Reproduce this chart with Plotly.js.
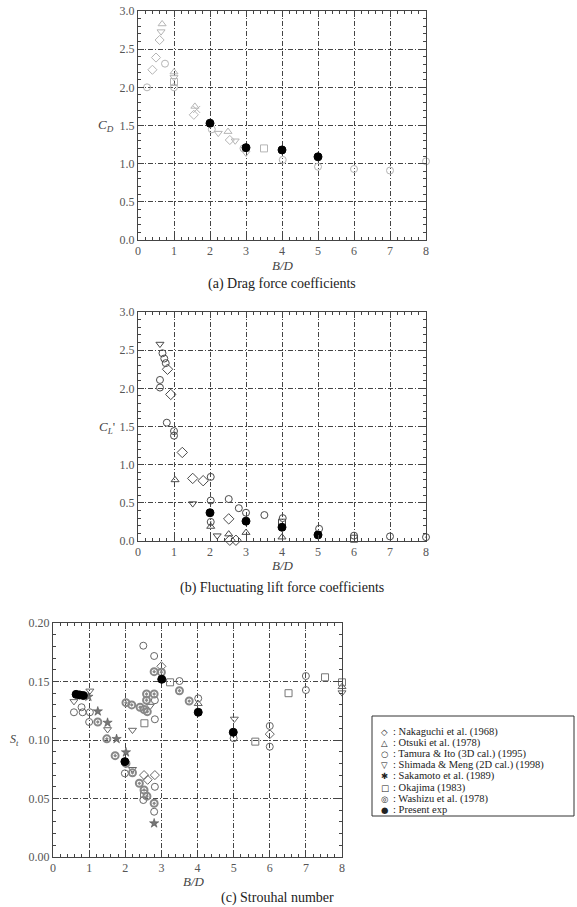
<!DOCTYPE html>
<html><head><meta charset="utf-8">
<script src="https://cdn.plot.ly/plotly-3.0.1.min.js"></script>
<style>html,body{margin:0;padding:0;background:#fff}#chart{width:577px;height:907px}</style>
</head><body><div id="chart"></div>
<script>
// ---------- series names (legend) ----------
const seriesNames = ["Nakaguchi et al. (1968)", "Otsuki et al. (1978)", "Tamura & Ito (3D cal.) (1995)",
  "Shimada & Meng (2D cal.) (1998)", "Sakamoto et al. (1989)", "Okajima (1983)", "Washizu et al. (1978)", "Present exp"];
const legendGlyphs = ["◇", "△", "○", "▽", "✱", "□", "◎", "●"];

// ---------- (a) Drag force coefficients ----------
const aNakaguchiX = [0.4, 0.5, 0.6, 1.55, 2.55];
const aNakaguchiY = [2.23, 2.39, 2.62, 1.64, 1.31];
const aOtsukiX = [0.67, 1.0, 1.58, 2.5];
const aOtsukiY = [2.83, 2.2, 1.75, 1.42];
const aTamuraX = [0.25, 0.75, 1.0, 2.05, 2.93, 4.02, 5.0, 6.0, 7.0, 8.0];
const aTamuraY = [2.0, 2.31, 2.0, 1.45, 1.2, 1.05, 0.96, 0.93, 0.91, 1.03];
const aShimadaX = [0.64, 1.0, 2.23, 2.7, 3.0];
const aShimadaY = [2.73, 2.13, 1.40, 1.30, 1.14];
const aSakamotoX = [1.63];
const aSakamotoY = [1.71];
const aOkajimaX = [1.0, 3.5];
const aOkajimaY = [2.07, 1.2];
const aPresentX = [2, 3, 4, 5];
const aPresentY = [1.53, 1.21, 1.18, 1.09];

// ---------- (b) Fluctuating lift force coefficients ----------
const bNakaguchiX = [0.82, 0.91, 1.23, 1.52, 1.81, 2.52, 2.55, 2.72];
const bNakaguchiY = [2.25, 1.92, 1.16, 0.82, 0.79, 0.29, 0.01, 0.01];
const bOtsukiX = [1.03, 2.02, 2.52, 3.0, 4.0];
const bOtsukiY = [0.80, 0.19, 0.09, 0.11, 0.05];
const bTamuraX = [0.68, 0.73, 0.77, 0.61, 0.61, 0.8, 1.0, 2.02, 2.02, 2.52, 2.8, 3.0, 3.51, 4.02, 5.03, 6.0, 7.0];
const bTamuraY = [2.46, 2.39, 2.33, 2.11, 2.01, 1.55, 1.38, 0.84, 0.53, 0.55, 0.43, 0.37, 0.34, 0.30, 0.16, 0.07, 0.06];
const bShimadaX = [0.61, 1.52, 2.2];
const bShimadaY = [2.58, 0.49, 0.07];
const bOkajimaX = [6.0, 4.0];
const bOkajimaY = [0.03, 0.24];
const bWashizuX = [1.0, 2.02, 8.0];
const bWashizuY = [1.44, 0.25, 0.05];
const bPresentX = [2, 3, 4, 5];
const bPresentY = [0.37, 0.26, 0.18, 0.08];

// ---------- (c) Strouhal number ----------
const cNakaguchiX = [2.52, 2.62, 2.82, 3.0, 6.0];
const cNakaguchiY = [0.070, 0.066, 0.070, 0.163, 0.105];
const cOtsukiX = [8.0, 4.02];
const cOtsukiY = [0.1455, 0.131];
const cTamuraX = [0.58, 0.79, 0.82, 1.02, 1.0, 1.99, 2.5, 2.82, 2.8, 2.5, 2.8, 3.5, 4.02, 5.0, 6.0, 6.0, 7.0, 7.0, 2.82, 2.82];
const cTamuraY = [0.1237, 0.128, 0.1237, 0.1237, 0.1154, 0.0715, 0.0487, 0.060, 0.0387, 0.1806, 0.1718, 0.1504, 0.1356, 0.1015, 0.112, 0.0943, 0.1547, 0.1427, 0.134, 0.1177];
const cShimadaX = [0.58, 1.02, 1.51, 2.2, 2.2, 5.02, 2.69, 8.0];
const cShimadaY = [0.133, 0.142, 0.109, 0.075, 0.1085, 0.118, 0.129, 0.1405];
const cSakamotoX = [0.98, 1.24, 1.51, 1.76, 2.02, 2.8];
const cSakamotoY = [0.137, 0.1245, 0.1148, 0.1009, 0.0895, 0.0288];
const cOkajimaX = [2.53, 2.52, 5.6, 6.52, 7.53, 8.0, 3.24];
const cOkajimaY = [0.1143, 0.054, 0.0986, 0.140, 0.1536, 0.1493, 0.1493];
const cWashizuX = [1.24, 1.49, 1.72, 2.02, 2.2, 2.39, 2.52, 2.6, 2.8, 2.8, 3.0, 3.5, 3.77, 2.02, 2.18, 2.41, 2.52, 2.59, 2.8, 2.59, 2.61];
const cWashizuY = [0.1154, 0.101, 0.0866, 0.08, 0.072, 0.063, 0.0573, 0.052, 0.0459, 0.1584, 0.158, 0.1421, 0.1333, 0.1319, 0.13, 0.128, 0.126, 0.1393, 0.1393, 0.134, 0.1242];
const cPresentX = [0.64, 0.74, 0.84, 1.99, 3.01, 4.02, 4.99];
const cPresentY = [0.139, 0.1385, 0.138, 0.0815, 0.1519, 0.1237, 0.1066];

// ---------- tick labels ----------
const xTicks = [0, 1, 2, 3, 4, 5, 6, 7, 8];
const yTicksAB = [0, 0.5, 1.0, 1.5, 2.0, 2.5, 3.0];
const yTicksC = [0, 0.05, 0.10, 0.15, 0.20];

// ---------- helpers (layout only) ----------
const W = 577, H = 907;
const px = x => x / W;
const py = y => 1 - y / H;

function mk(x, y, sym, color, xa, ya, opts) {
  opts = opts || {};
  return {
    type: 'scatter', mode: 'markers', x: x, y: y, xaxis: xa, yaxis: ya,
    showlegend: false, cliponaxis: false, hoverinfo: 'x+y',
    marker: Object.assign({symbol: sym, size: 7, color: color, line: {color: color, width: 1}}, opts)
  };
}

const faint = '#b5b5b5';
const dark = '#4a4a4a';
const traces = [
  // (a)
  mk(aNakaguchiX, aNakaguchiY, 'diamond-open', faint, 'x', 'y'),
  mk(aOtsukiX, aOtsukiY, 'triangle-up-open', faint, 'x', 'y'),
  mk(aTamuraX, aTamuraY, 'circle-open', faint, 'x', 'y'),
  mk(aShimadaX, aShimadaY, 'triangle-down-open', faint, 'x', 'y'),
  mk(aSakamotoX, aSakamotoY, 'x-thin-open', faint, 'x', 'y'),
  mk(aOkajimaX, aOkajimaY, 'square-open', faint, 'x', 'y'),
  mk(aPresentX, aPresentY, 'circle', '#000', 'x', 'y', {size: 8}),
  // (b)
  mk(bNakaguchiX, bNakaguchiY, 'diamond-open', dark, 'x2', 'y2', {size: 8}),
  mk(bOtsukiX, bOtsukiY, 'triangle-up-open', dark, 'x2', 'y2'),
  mk(bTamuraX, bTamuraY, 'circle-open', dark, 'x2', 'y2'),
  mk(bShimadaX, bShimadaY, 'triangle-down-open', dark, 'x2', 'y2'),
  mk(bOkajimaX, bOkajimaY, 'square-open', dark, 'x2', 'y2'),
  mk(bWashizuX, bWashizuY, 'circle-open-dot', dark, 'x2', 'y2'),
  mk(bPresentX, bPresentY, 'circle', '#000', 'x2', 'y2', {size: 8}),
  // (c)
  mk(cNakaguchiX, cNakaguchiY, 'diamond-open', '#666', 'x3', 'y3'),
  mk(cOtsukiX, cOtsukiY, 'triangle-up-open', '#666', 'x3', 'y3'),
  mk(cTamuraX, cTamuraY, 'circle-open', '#666', 'x3', 'y3'),
  mk(cShimadaX, cShimadaY, 'triangle-down-open', '#666', 'x3', 'y3'),
  mk(cSakamotoX, cSakamotoY, 'star', '#777', 'x3', 'y3', {line: {color: '#444', width: 0.5}}),
  mk(cOkajimaX, cOkajimaY, 'square-open', '#777', 'x3', 'y3'),
  mk(cWashizuX, cWashizuY, 'circle-open-dot', '#888', 'x3', 'y3', {line: {color: '#888', width: 2}}),
  mk(cPresentX, cPresentY, 'circle', '#000', 'x3', 'y3', {size: 8})
];

const serif = 'Liberation Serif';
const tickFont = {family: serif, size: 12, color: '#555'};
function xax(dom, anchor) {
  return {
    domain: dom, anchor: anchor, range: [0, 8], tickmode: 'array', tickvals: xTicks,
    ticktext: xTicks.map(String), showline: true, linecolor: '#444', linewidth: 1, mirror: 'allticks',
    ticks: 'inside', ticklen: 6, tickcolor: '#444', tickfont: tickFont,
    showgrid: true, gridcolor: '#444', griddash: '5px,2px,1px,2px', gridwidth: 1, zeroline: false,
    minor: {ticks: 'inside', ticklen: 3, dtick: 0.2, tick0: 0, tickcolor: '#444', showgrid: false}
  };
}
function yax(dom, anchor, range, vals, fmt, minorStep) {
  return {
    domain: dom, anchor: anchor, range: range, tickmode: 'array', tickvals: vals,
    ticktext: vals.map(v => v.toFixed(fmt)), showline: true, linecolor: '#444', linewidth: 1, mirror: 'allticks',
    ticks: 'inside', ticklen: 6, tickcolor: '#444', tickfont: tickFont,
    showgrid: true, gridcolor: '#444', griddash: '5px,2px,1px,2px', gridwidth: 1, zeroline: false,
    minor: {ticks: 'inside', ticklen: 3, dtick: minorStep, tick0: 0, tickcolor: '#444', showgrid: false}
  };
}

const annotations = [];
function ann(text, x, y, xanchor, size, color, family) {
  annotations.push({text: text, x: px(x), y: py(y), xref: 'paper', yref: 'paper',
    xanchor: xanchor, yanchor: 'middle', showarrow: false,
    font: {family: family || serif, size: size, color: color || '#444'}});
}
// axis titles / captions
ann('<i>B/D</i>', 283, 265, 'center', 13);
ann('(a) Drag force coefficients', 282, 284, 'center', 14, '#222');
ann('<i>C<sub>D</sub></i>', 116, 126, 'right', 13);
ann('<i>B/D</i>', 283, 565, 'center', 13);
ann('(b) Fluctuating lift force coefficients', 282, 588, 'center', 14, '#222');
ann("<i>C<sub>L</sub></i>'", 117, 427, 'right', 13);
ann('<i>B/D</i>', 194, 881, 'center', 13);
ann('(c) Strouhal number', 277, 898, 'center', 14, '#222');
ann('<i>S<sub>t</sub></i>', 21, 740, 'right', 12);

// legend (drawn as text lines inside a box)
const legendY0 = 731.5, legendDy = 11.2;
seriesNames.forEach((name, i) => {
  ann(legendGlyphs[i], 379, legendY0 + i * legendDy, 'left', 8.5, '#222', 'DejaVu Sans');
  ann(': ' + name, 391, legendY0 + i * legendDy, 'left', 10.5, '#222');
});

const layout = {
  width: W, height: H, margin: {l: 0, r: 0, t: 0, b: 0},
  paper_bgcolor: '#fff', plot_bgcolor: '#fff', showlegend: false,
  xaxis: xax([px(138), px(426)], 'y'),
  yaxis: yax([py(240), py(11)], 'x', [0, 3], yTicksAB, 1, 0.1),
  xaxis2: xax([px(138), px(426)], 'y2'),
  yaxis2: yax([py(541), py(312)], 'x2', [0, 3], yTicksAB, 1, 0.1),
  xaxis3: xax([px(53), px(342)], 'y3'),
  yaxis3: yax([py(857), py(623)], 'x3', [0, 0.2], yTicksC, 2, 0.01),
  annotations: annotations,
  shapes: [{type: 'rect', xref: 'paper', yref: 'paper', x0: px(372), x1: px(574), y0: py(816), y1: py(716),
    line: {color: '#333', width: 1}, fillcolor: 'rgba(0,0,0,0)'}]
};

Plotly.newPlot('chart', traces, layout, {staticPlot: true});
</script></body></html>
